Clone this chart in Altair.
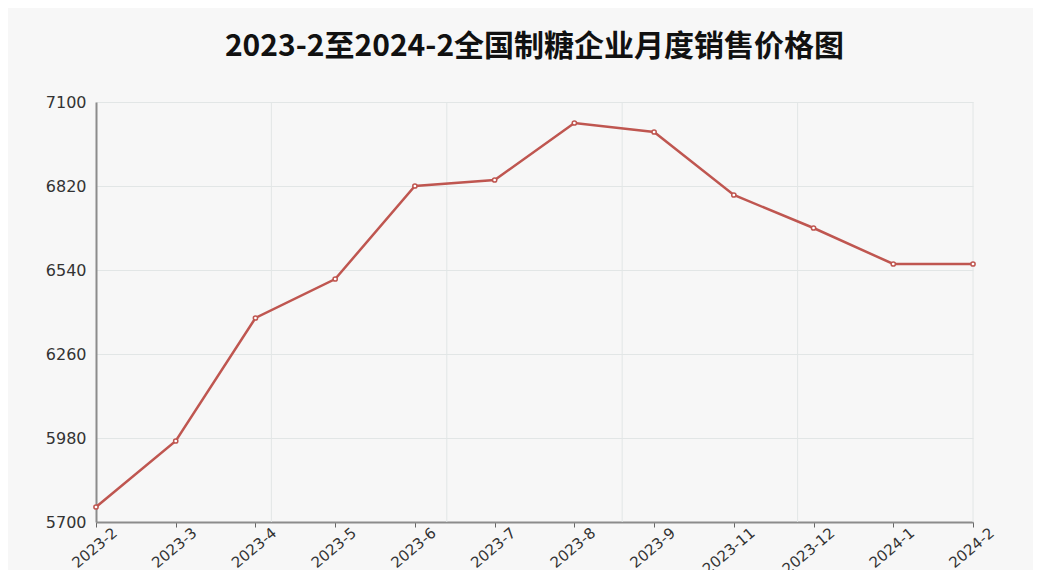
import altair as alt
import pandas as pd

months = ["2023-2", "2023-3", "2023-4", "2023-5", "2023-6", "2023-7",
          "2023-8", "2023-9", "2023-11", "2023-12", "2024-1", "2024-2"]
prices = [5750, 5970, 6380, 6510, 6820, 6840, 7030, 7000, 6790, 6680, 6560, 6560]
y_ticks = [5700, 5980, 6260, 6540, 6820, 7100]
v_grid = [1, 2, 3, 4, 5]

title_text = "2023-2至2024-2全国制糖企业月度销售价格图"
line_color = "#bf5650"
bg = "#f7f7f7"

df = pd.DataFrame({"month": months, "price": prices})
grid_df = pd.DataFrame({"g": v_grid})

vgrid = alt.Chart(grid_df).mark_rule(color="#e2e6e6", strokeWidth=1).encode(
    x=alt.X("g:Q", scale=alt.Scale(domain=[0, 5], nice=False), axis=None)
)

x_enc = alt.X("month:O", sort=months, scale=alt.Scale(padding=0),
              axis=alt.Axis(title=None, labelAngle=-40, labelFontSize=15,
                            labelColor="#333333", labelFont="DejaVu Sans",
                            domainColor="#8c8c8c", domainWidth=2,
                            tickColor="#666666", tickSize=5, grid=False,
                            labelPadding=-2, labelOffset=14))
y_enc = alt.Y("price:Q", scale=alt.Scale(domain=[5700, 7100], nice=False, zero=False),
              axis=alt.Axis(title=None, values=y_ticks, format="d", labelFontSize=16,
                            labelColor="#333333", labelFont="DejaVu Sans",
                            domainColor="#8c8c8c", domainWidth=2, ticks=False,
                            grid=True, gridColor="#e2e6e6", labelPadding=10))

line = alt.Chart(df).mark_line(color=line_color, strokeWidth=2.5).encode(x=x_enc, y=y_enc)
pts = alt.Chart(df).mark_point(shape="circle", filled=True, fill="white", stroke=line_color,
                               strokeWidth=1.5, size=18, opacity=1).encode(x=x_enc, y=y_enc)

chart = alt.layer(vgrid, alt.layer(line, pts)).resolve_scale(x="independent").properties(
    width=877, height=420,
    title=alt.TitleParams(text=title_text, fontSize=30, fontWeight="bold",
                          font="Noto Sans CJK SC", color="#111111",
                          anchor="middle", offset=32),
    autosize=alt.AutoSizeParams(type="none"),
    padding={"left": 88, "top": 94, "right": 60, "bottom": 48},
    background=bg,
).configure_view(stroke=None)

chart.save("out.html", embed_options={"renderer": "svg", "actions": False})
